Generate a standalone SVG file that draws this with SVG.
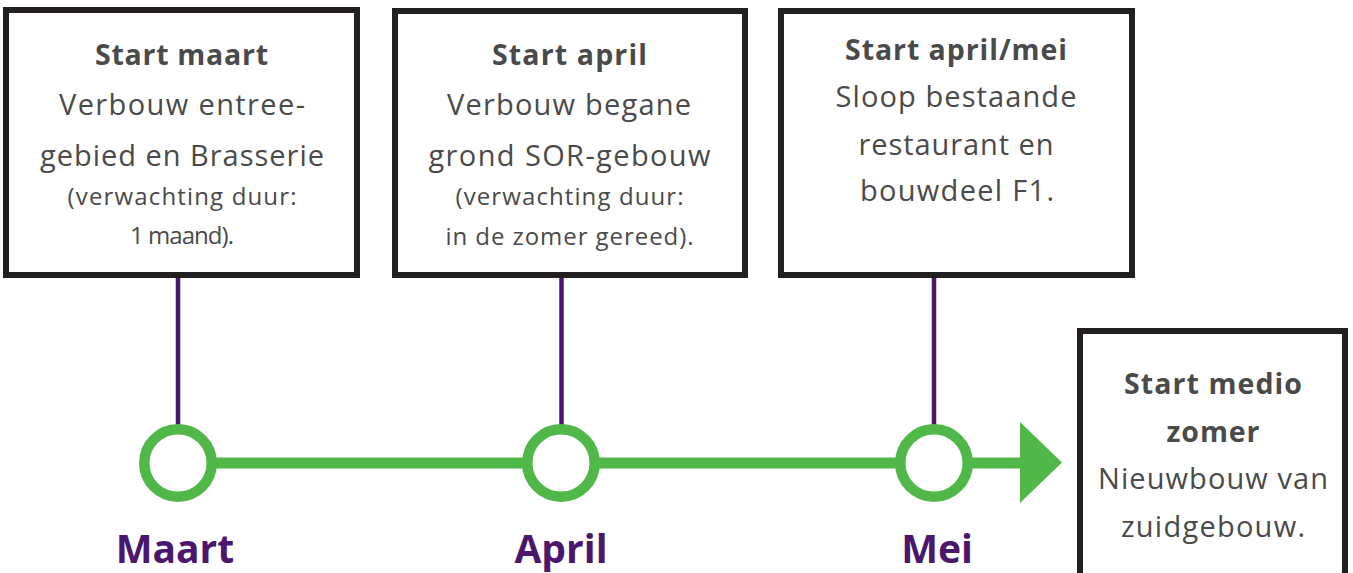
<svg xmlns="http://www.w3.org/2000/svg" width="1353" height="573" viewBox="0 0 1353 573">
<style>
.box{fill:#fff;stroke:#231f20;stroke-width:6}
.t{font-family:"Open Sans","Liberation Sans",sans-serif;fill:#4a4a4a;text-anchor:middle}
.b{font-weight:bold;font-size:28.5px}
.r{font-size:29px}
.s{font-size:24px}
.lbl{font-family:"Open Sans","Liberation Sans",sans-serif;font-weight:bold;font-size:39px;fill:#4b176d;text-anchor:middle}
.stem{stroke:#4b176d;stroke-width:4.5}
.dot{fill:#fff;stroke:#50b848;stroke-width:10.5}
</style>
<g id="connectors">
<line class="stem" x1="178" y1="278" x2="178" y2="426"/>
<line class="stem" x1="561.5" y1="278" x2="561.5" y2="426"/>
<line class="stem" x1="934" y1="278" x2="934" y2="426"/>
<line x1="178" y1="463" x2="1025" y2="463" stroke="#50b848" stroke-width="11"/>
<polygon points="1020,422 1062,462.5 1020,503" fill="#50b848"/>
</g>
<g id="node-maart">
<rect class="box" x="6" y="10" width="351" height="265"/>
<text class="t b" x="181.5" y="65" textLength="173" lengthAdjust="spacing">Start maart</text>
<text class="t r" x="182" y="115" textLength="246" lengthAdjust="spacing">Verbouw entree-</text>
<text class="t r" x="182" y="166" textLength="284" lengthAdjust="spacing">gebied en Brasserie</text>
<text class="t s" x="182" y="205" textLength="229" lengthAdjust="spacing">(verwachting duur:</text>
<text class="t s" x="182" y="244" textLength="104" lengthAdjust="spacing">1 maand).</text>
</g>
<g id="node-april">
<rect class="box" x="395" y="11" width="350" height="264"/>
<text class="t b" x="569.5" y="65" textLength="155" lengthAdjust="spacing">Start april</text>
<text class="t r" x="569" y="115" textLength="244" lengthAdjust="spacing">Verbouw begane</text>
<text class="t r" x="569.5" y="166" textLength="282" lengthAdjust="spacing">grond SOR-gebouw</text>
<text class="t s" x="569.5" y="205" textLength="228" lengthAdjust="spacing">(verwachting duur:</text>
<text class="t s" x="569.5" y="245" textLength="248" lengthAdjust="spacing">in de zomer gereed).</text>
</g>
<g id="node-aprilmei">
<rect class="box" x="781" y="11" width="351" height="264"/>
<text class="t b" x="956" y="60" textLength="222" lengthAdjust="spacing">Start april/mei</text>
<text class="t r" x="956" y="107" textLength="241" lengthAdjust="spacing">Sloop bestaande</text>
<text class="t r" x="956" y="155" textLength="195" lengthAdjust="spacing">restaurant en</text>
<text class="t r" x="957" y="201" textLength="194" lengthAdjust="spacing">bouwdeel F1.</text>
</g>
<g id="node-zomer">
<rect class="box" x="1080" y="331" width="265" height="260"/>
<text class="t b" x="1213" y="394" textLength="178" lengthAdjust="spacing">Start medio</text>
<text class="t b" x="1213" y="442" textLength="93" lengthAdjust="spacing">zomer</text>
<text class="t r" x="1213" y="489" textLength="230" lengthAdjust="spacing">Nieuwbouw van</text>
<text class="t r" x="1213" y="537" textLength="184" lengthAdjust="spacing">zuidgebouw.</text>
</g>
<g id="node-dot-maart"><circle class="dot" cx="178" cy="463" r="33.75"/><text class="lbl" x="175" y="563">Maart</text></g>
<g id="node-dot-april"><circle class="dot" cx="561" cy="463" r="33.75"/><text class="lbl" x="561" y="563">April</text></g>
<g id="node-dot-mei"><circle class="dot" cx="934" cy="463" r="33.75"/><text class="lbl" x="937" y="563">Mei</text></g>
</svg>
